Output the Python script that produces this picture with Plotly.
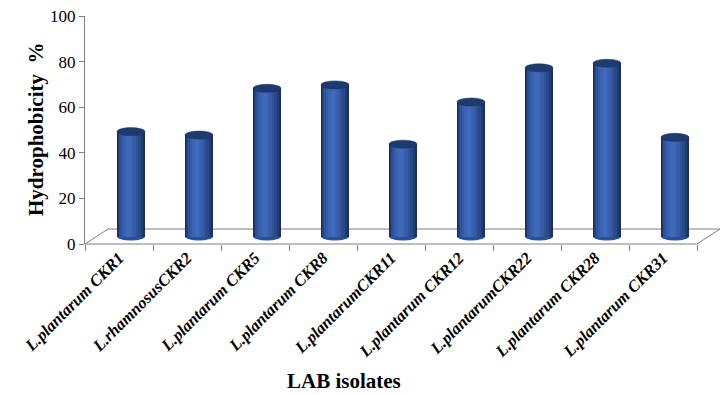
import plotly.graph_objects as go

# ---- data ----
isolates = ["L.plantarum CKR1", "L.rhamnosusCKR2", "L.plantarum CKR5", "L.plantarum CKR8",
            "L.plantarumCKR11", "L.plantarum CKR12", "L.plantarumCKR22", "L.plantarum CKR28",
            "L.plantarum CKR31"]
hydrophobicity = [46, 44.5, 65, 66.5, 40.5, 59, 74, 76, 43.5]
y_ticks = [0, 20, 40, 60, 80, 100]

# ---- geometry ----
W, H = 727, 394
L, R, T, B = 85, 30, 16, 150
plot_w, plot_h = W - L - R, H - T - B
n = len(isolates)
ux = n / plot_w          # x units per px
uy = 100 / plot_h        # y units per px
dx = 12 * ux             # depth shift of bars
dy = 7.5 * uy
bar_w = 28 * ux
ell_h = 8 * uy

centers = [i + dx for i in range(n)]

fig = go.Figure()

layers = [
    (1.00, 0.00, "#1a2f5b"),
    (0.90, -0.02, "#213c74"),
    (0.78, -0.04, "#284888"),
    (0.64, -0.06, "#2e5298"),
    (0.48, -0.07, "#345ca8"),
    (0.32, -0.08, "#3a64b3"),
    (0.16, -0.08, "#3f6ab9"),
]
for f, shift, col in layers:
    fig.add_trace(go.Bar(
        x=[c + shift * bar_w for c in centers], y=hydrophobicity, base=dy,
        width=bar_w * f, marker=dict(color=col, line=dict(width=0)),
        hoverinfo="skip", showlegend=False))

shapes = []
# floor
fx = 23 / plot_w
fy = 15 / plot_h
shapes.append(dict(type="path", xref="paper", yref="paper",
                   path=f"M 0,0 L 1,0 L {1+fx},{fy} L {fx},{fy} Z",
                   line=dict(color="#7f7f7f", width=1), layer="below"))
for c, v in zip(centers, hydrophobicity):
    # bottom cap
    shapes.append(dict(type="circle", xref="x", yref="y", layer="below",
                       x0=c - bar_w / 2, x1=c + bar_w / 2, y0=dy - ell_h / 2, y1=dy + ell_h / 2,
                       fillcolor="#2b4f95", line=dict(width=0)))
    # top cap
    shapes.append(dict(type="circle", xref="x", yref="y", layer="above",
                       x0=c - bar_w / 2, x1=c + bar_w / 2, y0=dy + v - ell_h / 2, y1=dy + v + ell_h / 2,
                       fillcolor="#1f3a6e", line=dict(color="#1a305c", width=0.5)))

fig.update_layout(
    width=W, height=H,
    margin=dict(l=L, r=R, t=T, b=B, autoexpand=False),
    paper_bgcolor="white", plot_bgcolor="white",
    barmode="overlay", bargap=0,
    shapes=shapes,
    font=dict(family="Liberation Serif, Times New Roman, serif", color="black"),
    xaxis=dict(range=[-0.5, n - 0.5], tickvals=list(range(n)), ticktext=isolates,
               tickangle=-45, ticks="", showgrid=False, zeroline=False, showline=False,
               automargin=False,
               tickfont=dict(family="Liberation Serif", size=16.5, weight="bold", style="italic", color="black"),
               minor=dict(tickvals=[i - 0.5 for i in range(n + 1)], ticks="outside", ticklen=6,
                          tickcolor="#7f7f7f", showgrid=False)),
    yaxis=dict(range=[0, 100], tickvals=y_ticks, ticks="outside", ticklen=5, tickcolor="#7f7f7f",
               showline=True, linecolor="#7f7f7f", linewidth=1, showgrid=False, zeroline=False,
               automargin=False,
               tickfont=dict(family="Liberation Serif", size=17, color="black")),
    annotations=[
        dict(text="LAB isolates", xref="paper", yref="paper", x=(344 - L) / plot_w,
             y=-(381 - (T + plot_h)) / plot_h, showarrow=False,
             xanchor="center", yanchor="middle",
             font=dict(family="Liberation Serif", size=21, weight="bold", color="black")),
        dict(text="Hydrophobicity  %", xref="paper", yref="paper", x=-(L - 36) / plot_w,
             y=(T + plot_h - 130) / plot_h, showarrow=False, textangle=-90,
             xanchor="center", yanchor="middle",
             font=dict(family="Liberation Serif", size=21, weight="bold", color="black")),
    ],
)

fig.write_html("out.html", config={"displayModeBar": False},
               post_script="document.body.style.margin='0';document.body.style.padding='0';")
